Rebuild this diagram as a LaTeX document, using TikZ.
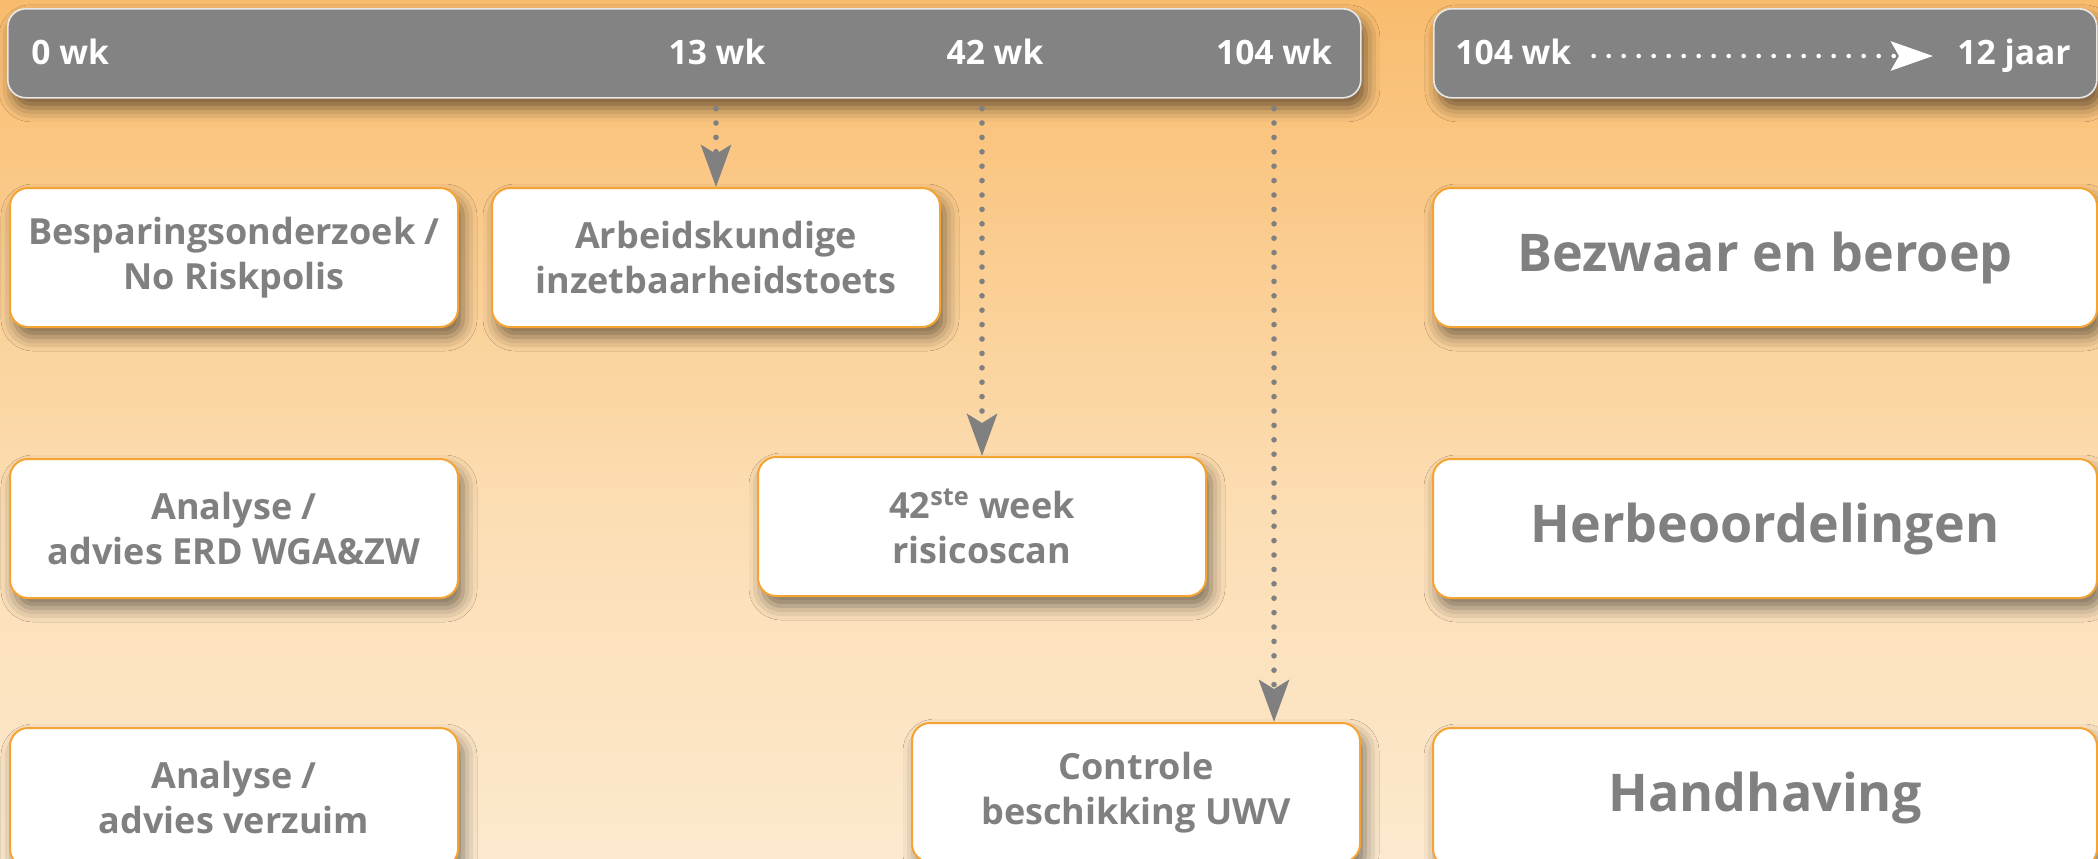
\documentclass[tikz,border=0pt]{standalone}
\usepackage{fontspec}
\setmainfont{Open Sans}
\usetikzlibrary{positioning,arrows.meta,shadows.blur}

\definecolor{bargray}{RGB}{131,131,131}
\definecolor{txtgray}{RGB}{128,128,128}
\definecolor{boxline}{RGB}{245,164,52}
\definecolor{barline}{RGB}{232,232,232}
\definecolor{bgtop}{RGB}{244,170,64}
\definecolor{bgup}{RGB}{249,188,110}
\definecolor{bgmid}{RGB}{252,222,180}
\definecolor{bgbot}{RGB}{253,246,237}
\pgfdeclareverticalshading{bgfade}{100bp}{color(0bp)=(bgbot); color(45bp)=(bgmid); color(75bp)=(bgup); color(100bp)=(bgtop)}

\tikzset{
  bar/.style={draw=barline, line width=0.8pt, fill=bargray, rounded corners=9pt,
    minimum height=44.5pt, inner sep=0pt,
    blur shadow={shadow xshift=2.5pt, shadow yshift=-5pt, shadow blur radius=7pt, shadow opacity=55}},
  weektext/.style={text=white, inner sep=0pt, font=\fontsize{16.8pt}{20pt}\selectfont\bfseries},
  taskbox/.style={draw=boxline, line width=1pt, fill=white, rounded corners=9pt,
    minimum width=224pt, minimum height=69.5pt, inner sep=0pt, align=center, text=txtgray,
    font=\fontsize{18pt}{22.5pt}\selectfont\bfseries,
    blur shadow={shadow xshift=2.5pt, shadow yshift=-5pt, shadow blur radius=7pt, shadow opacity=50}},
  bigbox/.style={taskbox, minimum width=332pt, font=\fontsize{26pt}{30pt}\selectfont\bfseries},
  weekarrow/.style={draw=txtgray, line width=2.8pt, line cap=round, dash pattern=on 0pt off 7.2pt,
    shorten <=5pt, -{Stealth[length=21pt, width=15pt, inset=4.5pt]}},
  timearrow/.style={draw=white, line width=2.3pt, line cap=round, dash pattern=on 0pt off 7.5pt,
    -{Stealth[length=21pt, width=14.5pt, inset=4pt]}}
}

\begin{document}
\begin{tikzpicture}[x=1pt, y=1pt]
% ----------------- background -----------------
\shade[shading=bgfade] (0,0) rectangle (1049,-429);
\useasboundingbox (0,0) rectangle (1049,-429);

% ----------------- time bars -----------------
\node (bar1) [bar, minimum width=676.5pt, anchor=north west] at (3.5,-4) {};
\node (bar2) [bar, minimum width=331.5pt, anchor=north west] at (716.5,-4) {};

\node (w0) [weektext, anchor=base west] at (15.5,-32) {0 wk};
\node (w13) [weektext, anchor=base] at (358.5,-32) {13 wk};
\node (w42) [weektext, anchor=base] at (497.5,-32) {42 wk};
\node (w104) [weektext, anchor=base] at (637,-32) {104 wk};

\node (y104) [weektext, anchor=base west] at (727.5,-32) {104 wk};
\node (y12) [weektext, anchor=base east] at (1035.5,-32) {12 jaar};

% ----------------- First row -----------------
\node (b1) [taskbox, anchor=north west] at (4.5,-93.5) {Besparingsonderzoek /\\No Riskpolis};
\node (b2) [taskbox, anchor=north west] at (245.5,-93.5) {Arbeidskundige\\inzetbaarheidstoets};
\node (b3) [bigbox, anchor=north west] at (716,-93.5) {Bezwaar en beroep};

% ----------------- Second row -----------------
\node (b4) [taskbox, below=65pt of b1] {Analyse /\\advies ERD WGA\&ZW};
\node (b5) [taskbox, anchor=north west] at (378.5,-228) {42\textsuperscript{ste} week\\risicoscan};
\node (b6) [bigbox, below=65pt of b3] {Herbeoordelingen};

% ----------------- row 3 -----------------
\node (b7) [taskbox, below=64pt of b4] {Analyse /\\advies verzuim};
\node (b8) [taskbox, anchor=north west] at (455.5,-361) {Controle\\beschikking UWV};
\node (b9) [bigbox, below=64pt of b6] {Handhaving};

% ----------------- Arrows -----------------
\draw[weekarrow] (b2.north |- bar1.south) -- (b2.north);
\draw[weekarrow] (b5.north |- bar1.south) -- (b5.north);
\draw[weekarrow] (w104 |- bar1.south) -- (w104 |- b8.north);

\draw[timearrow] ([xshift=11pt, yshift=4pt]y104.base east) -- ([xshift=-12pt, yshift=4pt]y12.base west);

\end{tikzpicture}
\end{document}
